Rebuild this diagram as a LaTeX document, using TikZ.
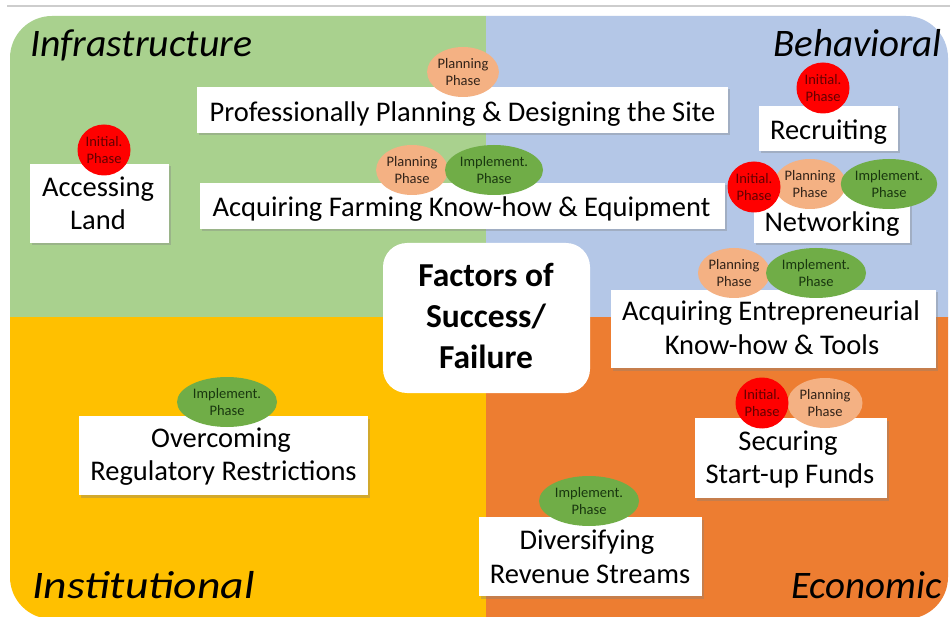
\documentclass[tikz,border=0pt]{standalone}
\usepackage{fontspec}
\setmainfont{Carlito}
\usetikzlibrary{shapes.geometric,shadows}
\definecolor{qgreen}{RGB}{169,209,142}
\definecolor{qblue}{RGB}{180,199,231}
\definecolor{qyellow}{RGB}{255,192,0}
\definecolor{qorange}{RGB}{237,125,49}
\definecolor{binit}{RGB}{255,0,0}
\definecolor{bplan}{RGB}{244,177,131}
\definecolor{bimpl}{RGB}{112,173,71}
\definecolor{tinit}{RGB}{100,0,0}
\definecolor{tplan}{RGB}{50,35,25}
\definecolor{timpl}{RGB}{25,55,15}
\definecolor{topline}{RGB}{205,205,205}
\begin{document}
\begin{tikzpicture}[x=1pt,y=-1pt,
  box/.style={fill=white, inner sep=0pt, drop shadow={shadow xshift=2pt, shadow yshift=-2.5pt, opacity=0.35}},
  btxt/.style={font=\fontsize{28.5}{34}\selectfont, anchor=base, inner sep=0pt},
  ctxt/.style={font=\fontsize{33.5}{40}\selectfont\bfseries, anchor=base, inner sep=0pt},
  qlab/.style={font=\fontsize{39}{47}\selectfont\itshape, inner sep=0pt},
  badge/.style={ellipse, inner sep=0pt, align=center, font=\fontsize{14.5}{16.5}\selectfont},
  binitial/.style={badge, fill=binit, text=tinit, minimum width=53pt, minimum height=51pt},
  bplanning/.style={badge, fill=bplan, text=tplan, minimum width=70pt, minimum height=50pt},
  bimplement/.style={badge, fill=bimpl, text=timpl, minimum width=100pt, minimum height=50pt}]
\useasboundingbox (0,0) rectangle (950,617);
\fill[white] (0,0) rectangle (950,617);
\coordinate (tl) at (7,6);
\coordinate (tr) at (950,6);
\draw[topline, line width=1.5pt] (tl) -- (tr);
% quadrants
\begin{scope}\clip (10,16) rectangle (486,318);
\fill[qgreen, rounded corners=42pt] (10,16) rectangle (948,619);\end{scope}
\begin{scope}\clip (486,16) rectangle (948,318);
\fill[qblue, rounded corners=42pt] (10,16) rectangle (948,619);\end{scope}
\begin{scope}\clip (10,318) rectangle (486,619);
\fill[qyellow, rounded corners=42pt] (10,16) rectangle (948,619);\end{scope}
\begin{scope}\clip (486,318) rectangle (948,619);
\fill[qorange, rounded corners=42pt] (10,16) rectangle (948,619);\end{scope}
% labels
\node[qlab, anchor=base west] (linf) at (30,57) {\scalebox{1.02}[1]{Infrastructure}};
\node[qlab, anchor=base east] (lbeh) at (942,57) {Behavioral};
\node[qlab, anchor=base west] (lins) at (32,598) {\scalebox{1.17}[1]{Institutional}};
\node[qlab, anchor=base east] (leco) at (942,598) {Economic};
% center
\node[fill=white, rounded corners=24pt, minimum width=207pt, minimum height=150pt, inner sep=0pt] (c) at (486.5,318) {};
\node[ctxt] (c1) at (486,287) {Factors of};
\node[ctxt] (c2) at (486,328) {Success/};
\node[ctxt] (c3) at (486,368) {Failure};
% boxes
\node[box, minimum width=531pt, minimum height=46pt] (b1) at (462.5,110) {};
\node[btxt] (b1t) at (462.5,122) {Professionally Planning \& Designing the Site};
\node[box, minimum width=525pt, minimum height=46pt] (b2) at (462.5,206) {};
\node[btxt] (b2t) at (461.5,217) {Acquiring Farming Know-how \& Equipment};
\node[box, minimum width=139pt, minimum height=79pt] (b3) at (99.5,203.5) {};
\node[btxt] (b3a) at (98,197) {Accessing};
\node[btxt] (b3b) at (98,230) {Land};
\node[box, minimum width=139pt, minimum height=45pt] (b4) at (828.5,128.5) {};
\node[btxt] (b4t) at (828.5,140) {Recruiting};
\node[box, minimum width=156pt, minimum height=53pt] (b5) at (832,216.5) {};
\node[btxt] (b5t) at (832,232) {Networking};
\node[box, minimum width=325pt, minimum height=78pt] (b6) at (773.5,329) {};
\node[btxt] (b6a) at (771,321) {Acquiring Entrepreneurial};
\node[btxt] (b6b) at (772,355) {Know-how \& Tools};
\node[box, minimum width=192pt, minimum height=80pt] (b7) at (791,458) {};
\node[btxt] (b7a) at (788,450) {Securing};
\node[btxt] (b7b) at (790,483) {Start-up Funds};
\node[box, minimum width=223pt, minimum height=79pt] (b8) at (590.5,556.5) {};
\node[btxt] (b8a) at (587,549) {Diversifying};
\node[btxt] (b8b) at (590,583) {Revenue Streams};
\node[box, minimum width=289pt, minimum height=79pt] (b9) at (223.5,455.5) {};
\node[btxt] (b9a) at (221,447) {Overcoming};
\node[btxt] (b9b) at (223.5,480) {Regulatory Restrictions};
% badges
\node[bplanning] (p1) at (463,72) {Planning\\Phase};
\node[binitial] (i3) at (104,150) {Initial.\\Phase};
\node[bplanning] (p2) at (412,170) {Planning\\Phase};
\node[bimplement, minimum width=98pt] (m2) at (494,170) {Implement.\\Phase};
\node[binitial] (i4) at (823,88) {Initial.\\Phase};
\node[bplanning, minimum width=68pt] (p5) at (810,184) {Planning\\Phase};
\node[bimplement, minimum width=92pt] (m5) at (889,184) {Implement.\\Phase};
\node[binitial] (i5) at (754,187) {Initial.\\Phase};
\node[bplanning, minimum width=72pt] (p6) at (734,273) {Planning\\Phase};
\node[bimplement] (m6) at (816,273) {Implement.\\Phase};
\node[bplanning, minimum width=75pt] (p7) at (825,403) {Planning\\Phase};
\node[binitial] (i7) at (762,403) {Initial.\\Phase};
\node[bimplement] (m8) at (589,501) {Implement.\\Phase};
\node[bimplement] (m9) at (227,402) {Implement.\\Phase};
\end{tikzpicture}
\end{document}
